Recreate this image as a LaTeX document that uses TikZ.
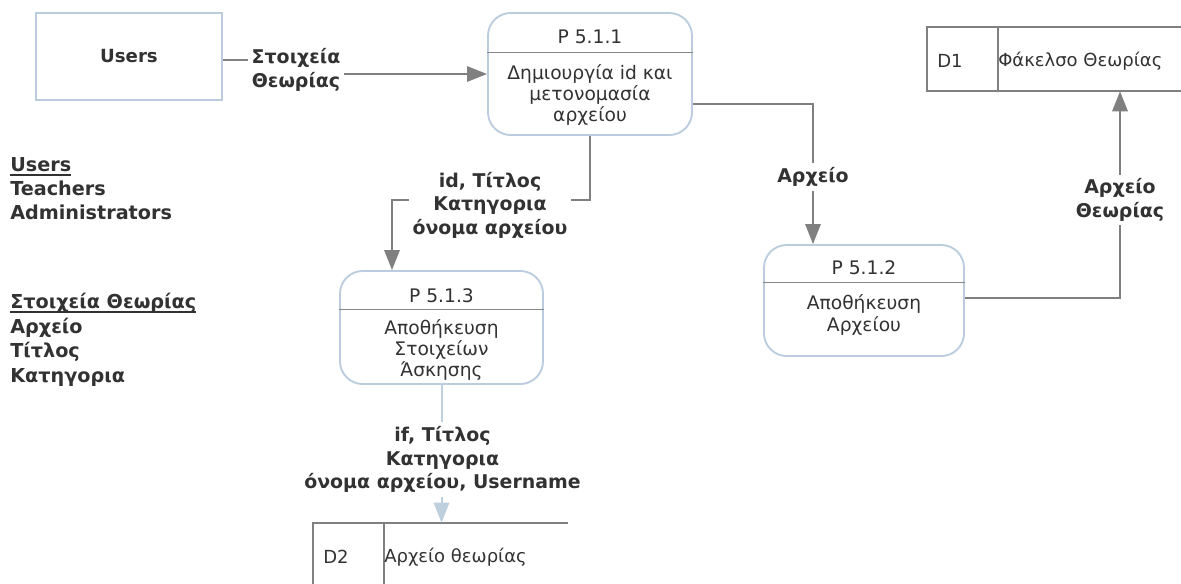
\documentclass[tikz,border=0pt]{standalone}
\usepackage{fontspec}
\setmainfont{DejaVu Sans}
\usetikzlibrary{calc,arrows.meta}
\definecolor{txt}{RGB}{50,50,50}
\definecolor{flow}{RGB}{128,128,128}
\definecolor{frame}{RGB}{186,204,222}
\definecolor{paleflow}{RGB}{190,208,222}
\definecolor{rulegray}{RGB}{136,136,136}
% underlined heading with a heavier rule than \underline
\newcommand\headline[1]{\setbox0\hbox{#1}\rlap{\rule[-3pt]{\wd0}{1.1pt}}\box0}
\begin{document}
\begin{tikzpicture}[x=0.75pt,y=-0.75pt,
  every node/.style={text=txt, inner sep=0pt},
  entity/.style={draw=frame, line width=1.4pt, minimum width=139.5pt, minimum height=65.25pt},
  proc/.style={draw=frame, line width=1.4pt, rounded corners=17pt},
  divider/.style={draw=rulegray, line width=0.8pt},
  storeline/.style={draw=flow, line width=1.8pt},
  flowline/.style={draw=flow, line width=1.5pt, -{Triangle[length=15pt,width=11.5pt]}},
  paleline/.style={draw=paleflow, line width=1.5pt, -{Triangle[length=15pt,width=11.5pt]}},
  lab/.style={font=\bfseries\fontsize{14.2}{17.6}\selectfont, align=center, fill=white, inner sep=3pt},
  ptitle/.style={font=\fontsize{14}{15.8}\selectfont},
  pbody/.style={font=\fontsize{14}{15.8}\selectfont, align=center},
  stxt/.style={font=\fontsize{13.5}{15.7}\selectfont},
  lst/.style={font=\bfseries\fontsize{14.4}{18}\selectfont, anchor=base west}
]
\useasboundingbox (0,0) rectangle (1181,583);

% external entity
\node[entity] (users) at (129,56.5) {\bfseries\fontsize{13.6}{16}\selectfont Users};

% processes
\node[proc, minimum width=153pt, minimum height=91.5pt] (p511) at (590,74) {};
\node[proc, minimum width=152.25pt, minimum height=84.75pt] (p513) at (441.5,327.5) {};
\node[proc, minimum width=150pt, minimum height=83.25pt] (p512) at (864,300.5) {};
\draw[divider] ($(p511.north west)+(0,40)$) -- ($(p511.north east)+(0,40)$);
\draw[divider] ($(p513.north west)+(0,39)$) -- ($(p513.north east)+(0,39)$);
\draw[divider] ($(p512.north west)+(0,38)$) -- ($(p512.north east)+(0,38)$);

\node[ptitle] (t511) at (590,37) {P 5.1.1};
\node[pbody] (b511) at (590,95) {Δημιουργία id και\\μετονομασία\\αρχείου};
\node[ptitle] (t513) at (441.5,296) {P 5.1.3};
\node[pbody] (b513) at (441.5,350) {Αποθήκευση\\Στοιχείων\\Άσκησης};
\node[ptitle] (t512) at (864,267.5) {P 5.1.2};
\node[pbody] (b512) at (864,315) {Αποθήκευση\\Αρχείου};

% data stores
\node (d1) at (1054,59) [minimum width=190.5pt, minimum height=48pt] {};
\draw[storeline] (d1.north east) -- (d1.north west) -- (d1.south west) -- (d1.south east);
\draw[storeline] (998,0 |- d1.north) -- (998,0 |- d1.south);
\node[stxt, anchor=west] (d1id) at (937,61) {D1};
\node[stxt, anchor=west] (d1name) at (998,61) {Φάκελσο Θεωρίας};

\node (d2) at (440.5,563) [minimum width=191.25pt, minimum height=60pt] {};
\draw[storeline] (d2.north east) -- (d2.north west) -- (d2.south west);
\draw[storeline] (384,0 |- d2.north) -- (384,0 |- d2.south);
\node[stxt, anchor=west] (d2id) at (323,557) {D2};
\node[stxt, anchor=west] (d2name) at (384,557) {Αρχείο θεωρίας};

% data flows
\draw[flowline] ($(users.east)+(0,3.5)$) -- (296,60) -- (296,74) -- (p511.west);
\node[lab] (f1) at (296,70) {Στοιχεία\\Θεωρίας};

\draw[flowline] (p511.south) -- (590,200) -- (392,200) -- (392,0 |- p513.north);
\node[lab] (f2) at (490,205) {id, Τίτλος\\Κατηγορια\\όνομα αρχείου};

\draw[flowline] ($(p511.east)+(0,30)$) -- (813,104) -- (813,0 |- p512.north);
\node[lab] (f3) at (813,177) {Αρχείο};

\draw[flowline] ($(p512.east)+(0,-2.5)$) -- (1120,298) -- (1120,0 |- d1.south);
\node[lab] (f4) at (1120,200) {Αρχείο\\Θεωρίας};

\draw[paleline] (p513.south) -- (p513.south |- d2.north);
\node[lab] (f5) at (442.5,459.5) {if, Τίτλος\\Κατηγορια\\όνομα αρχείου, Username};

% legend
\node[lst] (h1) at (10,171.5) {\headline{Users}};
\node[lst] (h1a) at (10,195.5) {Teachers};
\node[lst] (h1b) at (10,219.5) {Administrators};
\node[lst] (h2) at (10,308.5) {\headline{Στοιχεία Θεωρίας}};
\node[lst] (h2a) at (10,333) {Αρχείο};
\node[lst] (h2b) at (10,357.5) {Τίτλος};
\node[lst] (h2c) at (10,382) {Κατηγορια};
\end{tikzpicture}
\end{document}
